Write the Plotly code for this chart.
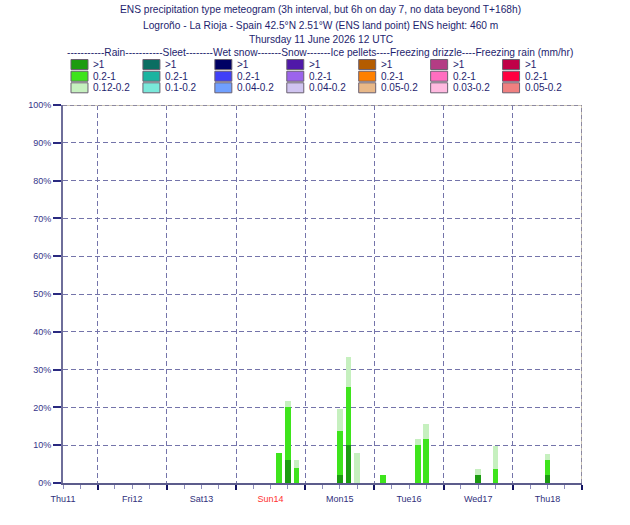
import plotly.graph_objects as go

# ---------------- data ----------------
hours = [75, 78, 81, 96, 99, 102, 111, 123, 126, 144, 150, 168]   # hours after Thu11 12UTC
rain_gt1 = [0, 6, 0, 2, 10, 0, 0, 0, 0, 2, 0, 2]
rain_02_1 = [8, 14, 4, 11.8, 15.4, 0, 2, 10, 11.7, 0, 3.8, 4]
rain_012_02 = [0, 1.6, 2, 5.7, 7.9, 8, 0, 1.7, 3.9, 1.8, 6, 1.8]

day_labels = ["Thu11", "Fri12", "Sat13", "Sun14", "Mon15", "Tue16", "Wed17", "Thu18"]
label_hours = [0, 24, 48, 72, 96, 120, 144, 168]
day_bounds = [12, 36, 60, 84, 108, 132, 156, 180]
minor_hours = [0, 6, 18, 24, 30, 42, 48, 54, 66, 72, 78, 90, 96, 102, 114, 120, 126,
               138, 144, 150, 162, 168, 174]
y_ticks = [0, 10, 20, 30, 40, 50, 60, 70, 80, 90, 100]
y_labels = [f"{v}%" for v in y_ticks]

leg_names = ["Rain", "Sleet", "Wet snow", "Snow", "Ice pellets", "Freezing drizzle",
             "Freezing rain (mm/hr)"]
leg_colors = [
    ["#1c9c10", "#3ee41c", "#c6f0bf"],
    ["#0a6e62", "#1ab4a0", "#7ae8da"],
    ["#000064", "#4040f8", "#70a0ff"],
    ["#5018a8", "#9c64ec", "#d0c4f0"],
    ["#b45c00", "#ff8000", "#e8b888"],
    ["#b43c84", "#ff6ec0", "#ffbae0"],
    ["#c00048", "#ff0040", "#f08080"],
]
leg_labels = [
    [">1", "0.2-1", "0.12-0.2"],
    [">1", "0.2-1", "0.1-0.2"],
    [">1", "0.2-1", "0.04-0.2"],
    [">1", "0.2-1", "0.04-0.2"],
    [">1", "0.2-1", "0.05-0.2"],
    [">1", "0.2-1", "0.03-0.2"],
    [">1", "0.2-1", "0.05-0.2"],
]
header_dashes = [11, 11, 8, 7, 7, 4, 4]   # dashes before each header word
titles = [
    "ENS precipitation type meteogram (3h interval, but 6h on day 7, no data beyond T+168h)",
    "Logroño - La Rioja - Spain 42.5°N 2.51°W (ENS land point) ENS height: 460 m",
    "Thursday 11 June 2026 12 UTC",
]

# ---------------- layout geometry ----------------
L, R, T, B = 63, 582.5, 104.5, 482.7
W, H = R - L, B - T
FONT = "Liberation Sans, Arial, sans-serif"
NAVY = "#1e1e6e"


def px(x):
    return (x - L) / W


def py(y):
    return (B - y) / H


fig = go.Figure()
fig.add_trace(go.Bar(x=hours, y=rain_gt1, width=2, marker=dict(color=leg_colors[0][0], line_width=0)))
fig.add_trace(go.Bar(x=hours, y=rain_02_1, width=2, marker=dict(color=leg_colors[0][1], line_width=0)))
fig.add_trace(go.Bar(x=hours, y=rain_012_02, width=2, marker=dict(color=leg_colors[0][2], line_width=0)))
# empty trace so that the label axis (x2) is drawn
fig.add_trace(go.Scatter(x=[], y=[], xaxis="x2", yaxis="y", hoverinfo="skip"))

ticktext = [f'<span style="color:#ff3030">{d}</span>' if d.startswith("Sun") else d for d in day_labels]

grid_dash = "5px,3px"
grid_col = "#7474aa"

fig.update_layout(
    width=630, height=525,
    margin=dict(l=L, r=630 - R, t=T, b=525 - B, pad=0),
    paper_bgcolor="white", plot_bgcolor="white",
    barmode="stack", showlegend=False,
    font=dict(family=FONT, color=NAVY),
    xaxis=dict(
        range=[0, 180], tickmode="array", tickvals=day_bounds, showticklabels=False,
        ticks="outside", ticklen=5, tickwidth=2, tickcolor="#141464",
        showgrid=True, gridcolor=grid_col, griddash=grid_dash, gridwidth=1,
        showline=True, linecolor="#5c5c8c", linewidth=2, zeroline=False,
        minor=dict(tickmode="array", tickvals=minor_hours, ticks="outside", ticklen=4,
                   tickwidth=1, tickcolor="#8c8cba", showgrid=False),
    ),
    xaxis2=dict(
        range=[0, 180], overlaying="x", anchor="y", side="bottom",
        tickmode="array", tickvals=label_hours, ticktext=ticktext,
        ticks="outside", ticklen=7, tickcolor="rgba(0,0,0,0)",
        showgrid=False, showline=False, zeroline=False,
        tickfont=dict(size=9, color="#30307c", family=FONT),
    ),
    yaxis=dict(
        range=[0, 100], tickmode="array", tickvals=y_ticks, ticktext=y_labels,
        ticks="outside", ticklen=8, tickwidth=1.5, tickcolor="#2a2a80",
        showgrid=True, gridcolor=grid_col, griddash=grid_dash, gridwidth=1,
        showline=True, linecolor="#6e6e9a", linewidth=2, zeroline=False,
        tickfont=dict(size=9, color="#35358a", family=FONT),
    ),
)

shapes = []
# top and right frame edges (tan + grey dashes)
for col, dash in [("#cfc8b8", "solid"), ("#8c88a0", "4px,3px")]:
    shapes.append(dict(type="line", xref="paper", yref="y", x0=0, x1=1, y0=100, y1=100,
                       line=dict(color=col, width=2, dash=dash), layer="above"))
    shapes.append(dict(type="line", xref="x", yref="y", x0=180, x1=180, y0=0, y1=100,
                       line=dict(color=col, width=2, dash=dash), layer="above"))

annotations = []
for i, t in enumerate(titles):
    annotations.append(dict(text=t, xref="paper", yref="paper", x=px(321), y=py([9, 24.5, 38.5][i]),
                            xanchor="center", yanchor="middle", showarrow=False,
                            font=dict(size=10.2, color=NAVY, family=FONT)))

header = "".join("-" * n + w for n, w in zip(header_dashes, leg_names))
annotations.append(dict(text=header, xref="paper", yref="paper", x=px(65.5), y=py(51.5),
                        xanchor="left", yanchor="middle", showarrow=False,
                        font=dict(size=10.2, color=NAVY, family=FONT)))

row_y = [59, 70.7, 82.3]
for i in range(len(leg_names)):
    x0 = 71 + 72 * i
    for r in range(3):
        y0 = row_y[r]
        shapes.append(dict(type="rect", xref="paper", yref="paper",
                           x0=px(x0), x1=px(x0 + 17), y0=py(y0 + 10), y1=py(y0),
                           fillcolor=leg_colors[i][r], line=dict(color="#6a6070", width=1)))
        annotations.append(dict(text=leg_labels[i][r], xref="paper", yref="paper",
                                x=px(x0 + 20), y=py(y0 + 5), xanchor="left", yanchor="middle",
                                showarrow=False, font=dict(size=10, color=NAVY, family=FONT)))

fig.update_layout(shapes=shapes, annotations=annotations)
fig.write_html("out.html")
